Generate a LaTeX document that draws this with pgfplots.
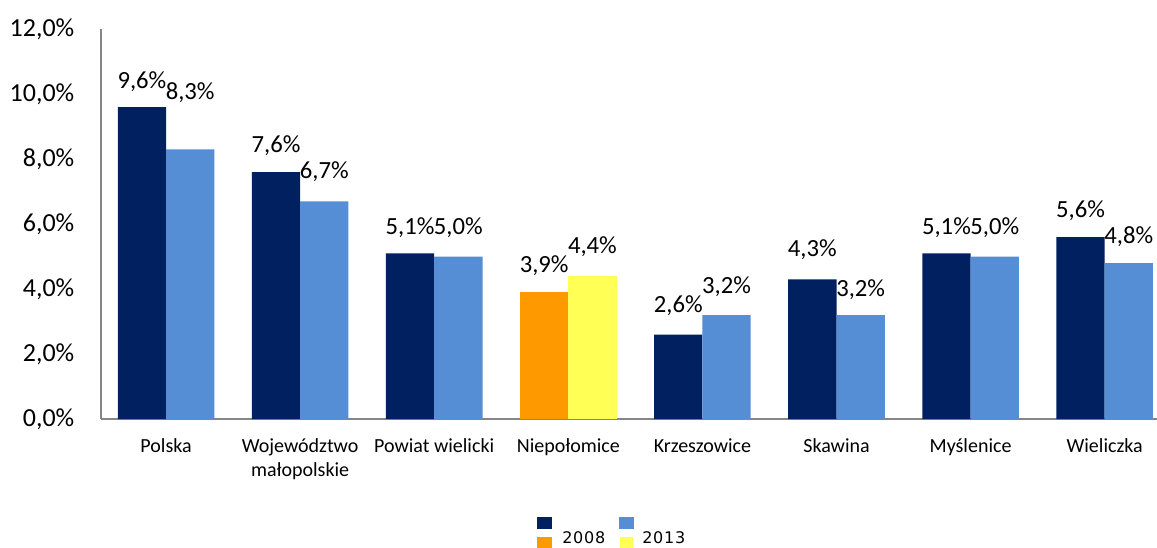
\documentclass[border=0pt]{standalone}
\usepackage{pgfplots}
\pgfplotsset{compat=1.18}
\usepackage{fontspec}
\setmainfont{Carlito}
\newfontfamily\legfont[LetterSpace=5]{DejaVu Sans}
\definecolor{dk}{RGB}{0,32,96}
\definecolor{lb}{RGB}{85,142,213}
\definecolor{orn}{RGB}{255,153,0}
\definecolor{yel}{RGB}{255,255,85}
\definecolor{axgray}{RGB}{134,134,134}
\begin{document}
\begin{tikzpicture}[x=1pt,y=1pt]
\useasboundingbox (-75.75,-96) rectangle (792,314.25);
\begin{axis}[
  at={(0,0)}, anchor=south west,
  scale only axis, width=792pt, height=292.5pt,
  xmin=-0.485, xmax=7.39, ymin=0, ymax=12,
  axis x line*=bottom, axis y line*=left,
  axis line style={axgray, line width=1.2pt},
  major tick length=0pt,
  ytick={0,2,4,6,8,10,12},
  yticklabels={{0,0\%},{2,0\%},{4,0\%},{6,0\%},{8,0\%},{10,0\%},{12,0\%}},
  yticklabel style={font=\fontsize{19.5}{22}\selectfont, xshift=-16.5pt},
  xtick={0,1,2,3,4,5,6,7},
  xticklabels={Polska,{Województwo\\małopolskie},Powiat wielicki,Niepołomice,Krzeszowice,Skawina,Myślenice,Wieliczka},
  xticklabel style={font=\fontsize{15}{18}\selectfont, align=center, yshift=-11pt},
  clip=false,
]
\addplot[ybar, bar width=0.36, bar shift=-0.18, fill=dk, draw=none]
  coordinates {(0,9.6) (1,7.6) (2,5.1) (4,2.6) (5,4.3) (6,5.1) (7,5.6)};
\addplot[ybar, bar width=0.36, bar shift=0.18, fill=lb, draw=none]
  coordinates {(0,8.3) (1,6.7) (2,5.0) (4,3.2) (5,3.2) (6,5.0) (7,4.8)};
\addplot[ybar, bar width=0.36, bar shift=-0.18, fill=orn, draw=none]
  coordinates {(3,3.9)};
\addplot[ybar, bar width=0.36, bar shift=0.18, fill=yel, draw=none]
  coordinates {(3,4.4)};
\begin{scope}[every node/.style={font=\fontsize{18.5}{21}\selectfont, inner sep=0pt}]
\node at (axis cs:-0.18,10.37) {9,6\%};
\node at (axis cs:0.18,10.03) {8,3\%};
\node at (axis cs:0.82,8.4) {7,6\%};
\node at (axis cs:1.18,7.6) {6,7\%};
\node at (axis cs:1.82,5.9) {5,1\%};
\node at (axis cs:2.18,5.88) {5,0\%};
\node at (axis cs:2.82,4.71) {3,9\%};
\node at (axis cs:3.18,5.29) {4,4\%};
\node at (axis cs:3.82,3.5) {2,6\%};
\node at (axis cs:4.18,4.06) {3,2\%};
\node at (axis cs:4.82,5.2) {4,3\%};
\node at (axis cs:5.18,3.97) {3,2\%};
\node at (axis cs:5.82,5.9) {5,1\%};
\node at (axis cs:6.18,5.88) {5,0\%};
\node at (axis cs:6.82,6.4) {5,6\%};
\node at (axis cs:7.18,5.6) {4,8\%};
\end{scope}
\end{axis}
% legend
\fill[dk] (327,-73.5) rectangle (338.25,-82.5);
\fill[lb] (388.5,-73.5) rectangle (399.75,-82.5);
\fill[orn] (327,-88.5) rectangle (338.25,-97.5);
\fill[yel] (389.25,-88.5) rectangle (399,-97.5);
\node[anchor=base west, inner sep=0pt, font=\legfont\fontsize{12}{14}\selectfont] at (345.75,-93) {2008};
\node[anchor=base west, inner sep=0pt, font=\legfont\fontsize{12}{14}\selectfont] at (405.75,-93) {2013};
\end{tikzpicture}
\end{document}
